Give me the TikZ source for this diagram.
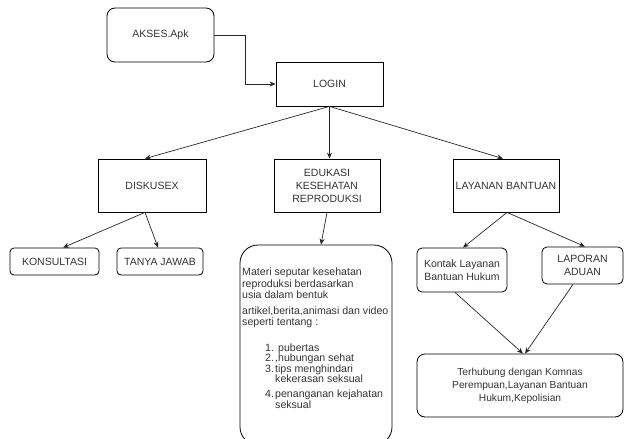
\documentclass[tikz,border=0pt]{standalone}
\usepackage{fontspec}
\setmainfont{Liberation Sans}
\usetikzlibrary{arrows.meta}
\tikzset{
  boxbase/.style={draw=black, line width=0.8pt, inner sep=1pt, align=center,
    font=\fontsize{10.5}{13}\selectfont, text=black!80},
  sqbox/.style={boxbase},
  rbox/.style={boxbase, rounded corners=#1},
  rbox/.default=5pt,
  arr/.style={-{Stealth[length=6pt,width=5pt]}, line width=0.7pt, draw=black!85},
  plaintext/.style={inner sep=0pt, align=left, text=black!80,
    font=\fontsize{10.6}{11.5}\selectfont},
}
\begin{document}
\begin{tikzpicture}[x=1pt,y=-1pt]
\useasboundingbox (0,0) rectangle (624,439);
\clip (0,0) rectangle (624,439);
% nodes
\node[rbox=8pt, minimum width=107pt, minimum height=54pt] (akses) at (160.5,35) {AKSES.Apk};
\node[sqbox, minimum width=107pt, minimum height=44pt] (login) at (329.5,84) {LOGIN};
\node[sqbox, minimum width=108pt, minimum height=53pt] (diskusex) at (152,185.5) {DISKUSEX};
\node[sqbox, minimum width=106pt, minimum height=53pt] (edukasi) at (327,185.5) {EDUKASI\\KESEHATAN\\REPRODUKSI};
\node[sqbox, minimum width=106pt, minimum height=53pt] (layanan) at (506,185.5) {LAYANAN BANTUAN};
\node[rbox=4pt, minimum width=89pt, minimum height=27pt] (konsul) at (54.5,261.5) {KONSULTASI};
\node[rbox=4pt, minimum width=86pt, minimum height=27pt] (tanya) at (160,261.5) {TANYA JAWAB};
\node[rbox=18pt, minimum width=152pt, minimum height=200pt] (materi) at (316,345) {};
\node[plaintext, anchor=north west] (mtext) at (242,268) {%
Materi seputar kesehatan\\
reproduksi berdasarkan\\
usia dalam bentuk\\[4pt]
artikel,berita,animasi dan video\\
seperti tentang :\\[14pt]
\hspace*{23pt}\makebox[10pt][l]{1.}\ pubertas\\[-1pt]
\hspace*{23pt}\makebox[10pt][l]{2.},hubungan sehat\\[-1pt]
\hspace*{23pt}\makebox[10pt][l]{3.}tips menghindari\\[-1pt]
\hspace*{33pt}kekerasan seksual\\[3pt]
\hspace*{23pt}\makebox[10pt][l]{4.}penanganan kejahatan\\
\hspace*{33pt}seksual};
\node[rbox=5pt, minimum width=90pt, minimum height=44pt] (kontak) at (462,270) {Kontak Layanan\\Bantuan Hukum};
\node[rbox=5pt, minimum width=81pt, minimum height=37pt] (laporan) at (582.5,265.5) {LAPORAN\\ADUAN};
\node[rbox=8pt, minimum width=206pt, minimum height=63pt, font=\fontsize{10.2}{13}\selectfont] (terhub) at (520,385.5) {Terhubung dengan Komnas\\Perempuan,Layanan Bantuan\\Hukum,Kepolisian};
% connectors
\draw[arr] (akses.east) -- ++(31,0) |- (login.west);
\draw[arr] (login.south) -- ([xshift=-7pt]diskusex.north);
\draw[arr] (login.south) -- (login.south |- edukasi.north);
\draw[arr] (login.south) -- ([xshift=-3pt]layanan.north);
\draw[arr] ([xshift=-7pt]diskusex.south) -- ([xshift=8.5pt]konsul.north);
\draw[arr] ([xshift=-7pt]diskusex.south) -- ([xshift=-2pt]tanya.north);
\draw[arr] (edukasi.south) -- ([xshift=5pt]materi.north);
\draw[arr] ([xshift=1pt]layanan.south) -- ([xshift=1pt]kontak.north);
\draw[arr] ([xshift=1pt]layanan.south) -- ([xshift=2.5pt]laporan.north);
\draw[arr] ([xshift=-7pt]kontak.south) -- ([xshift=3pt]terhub.north);
\draw[arr] ([xshift=-9.5pt]laporan.south) -- ([xshift=5pt]terhub.north);
\end{tikzpicture}
\end{document}
